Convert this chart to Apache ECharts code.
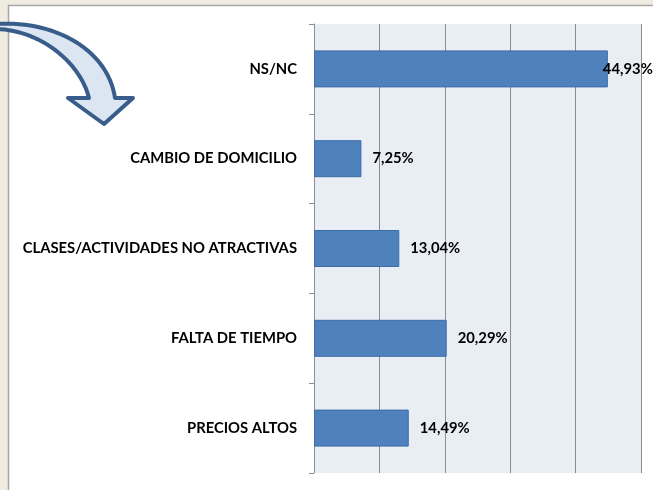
<!DOCTYPE html>
<html>
<head>
<meta charset="utf-8">
<script src="https://cdn.jsdelivr.net/npm/echarts@6/dist/echarts.min.js"></script>
<style>
  html, body { margin: 0; padding: 0; background: #eeece1; }
  #chart { width: 653px; height: 490px; }
</style>
</head>
<body>
<div id="chart"></div>
<script>
const categories = ['NS/NC', 'CAMBIO DE DOMICILIO', 'CLASES/ACTIVIDADES NO ATRACTIVAS', 'FALTA DE TIEMPO', 'PRECIOS ALTOS'];
const values = [44.93, 7.25, 13.04, 20.29, 14.49];
const axisMax = 50;
const axisStep = 10;

const font = 'Lato, "Open Sans", sans-serif';
const fmt = (v) => v.toFixed(2).replace('.', ',') + '%';

// outline of the decorative curved arrow (cubic curves sampled to a polygon)
function cubic(p0, p1, p2, p3, n) {
  const pts = [];
  for (let i = 0; i <= n; i++) {
    const t = i / n, u = 1 - t;
    pts.push([
      u * u * u * p0[0] + 3 * u * u * t * p1[0] + 3 * u * t * t * p2[0] + t * t * t * p3[0],
      u * u * u * p0[1] + 3 * u * u * t * p1[1] + 3 * u * t * t * p2[1] + t * t * t * p3[1],
    ]);
  }
  return pts;
}
const arrowPts = [
  ...cubic([-4, 24], [55, 20], [108, 50], [115, 98], 30),
  [133, 98], [104, 124], [68, 98], [89, 98],
  ...cubic([89, 98], [80, 62], [40, 30], [-4, 29], 30).slice(1),
];

const chart = echarts.init(document.getElementById('chart'));

chart.setOption({
  backgroundColor: 'transparent',
  animation: false,
  graphic: [
    { type: 'rect', z: -10, shape: { x: 8.5, y: 5.5, width: 660, height: 500 },
      style: { fill: '#ffffff', stroke: '#a6a6a6', lineWidth: 1.5 } },
    { type: 'polygon', z: 100, shape: { points: arrowPts },
      style: { fill: '#dce6f2', stroke: '#385d8a', lineWidth: 4, lineJoin: 'round' } },
  ],
  grid: {
    left: 314, right: 12, top: 24, bottom: 17,
    show: true, backgroundColor: '#e9edf4', borderWidth: 0,
  },
  xAxis: {
    type: 'value', min: 0, max: axisMax, interval: axisStep,
    axisLabel: { show: false }, axisLine: { show: false }, axisTick: { show: false },
    splitLine: { lineStyle: { color: '#8c8c8c', width: 1 } },
  },
  yAxis: {
    type: 'category', data: categories, inverse: true,
    axisLine: { lineStyle: { color: '#8c8c8c', width: 1 } },
    axisTick: { show: true, length: 5, lineStyle: { color: '#8c8c8c', width: 1 } },
    axisLabel: { color: '#000', fontFamily: font, fontWeight: 'bold', fontSize: 14.8, margin: 17 },
  },
  series: [{
    type: 'bar',
    barWidth: 37,
    data: values.map((v, i) => i === 0
      ? { value: v, label: { offset: [-16, 0] } }
      : v),
    itemStyle: { color: '#4f81bd', borderColor: '#3c6ca5', borderWidth: 1 },
    label: {
      show: true, position: 'right', distance: 11,
      color: '#000', fontFamily: font, fontWeight: 'bold', fontSize: 14.8,
      formatter: (p) => fmt(p.value),
    },
  }],
});
</script>
</body>
</html>
